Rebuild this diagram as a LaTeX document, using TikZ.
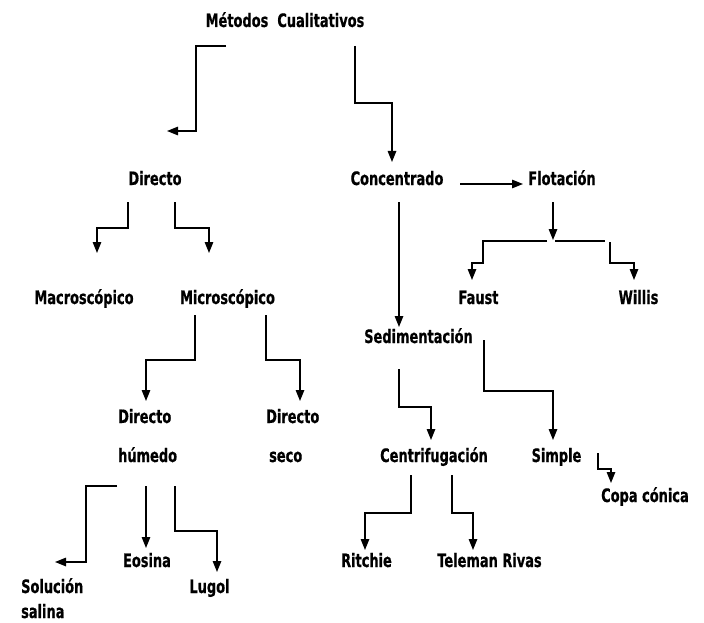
\documentclass[tikz,border=0pt]{standalone}
\usepackage{fontspec}
\setmainfont[FakeStretch=0.70,BoldFeatures={FakeBold=0.6}]{DejaVu Sans}
\usetikzlibrary{arrows.meta}
\tikzset{
  lbl/.style={font=\fontsize{18.5}{20}\selectfont\bfseries, inner sep=0pt, anchor=base, text=black},
  lblw/.style={lbl, anchor=base west},
  conn/.style={line width=1.4pt, -{Triangle[length=11pt,width=8.5pt]}},
  seg/.style={line width=1.4pt}
}
\begin{document}
\begin{tikzpicture}[x=1pt,y={(0pt,-1pt)}]
\useasboundingbox (0,0) rectangle (704,623);
% labels
\node[lbl] (met) at (285,27) {Métodos\ \ Cualitativos};
\node[lbl] (dir) at (155,185) {Directo};
\node[lbl] (con) at (397,185) {Concentrado};
\node[lbl] (flo) at (562,185) {Flotación};
\node[lbl] (mac) at (84,304) {Macroscópico};
\node[lbl] (mic) at (227.5,304) {Microscópico};
\node[lbl] (fau) at (478.5,304) {Faust};
\node[lbl] (wil) at (638.5,304) {Willis};
\node[lbl] (sed) at (418.5,343) {Sedimentación};
\node[lblw] (dh1) at (118,423) {Directo};
\node[lblw] (dh2) at (118,462) {húmedo};
\node[lblw] (ds1) at (266,423) {Directo};
\node[lblw] (ds2) at (269,462) {seco};
\node[lbl] (cen) at (434,462) {Centrifugación};
\node[lbl] (sim) at (556.5,462) {Simple};
\node[lbl] (cop) at (645,502) {Copa cónica};
\node[lblw] (sol1) at (21,593) {Solución};
\node[lblw] (sol2) at (21,618) {salina};
\node[lbl] (eos) at (147,567) {Eosina};
\node[lbl] (lug) at (209.5,593) {Lugol};
\node[lbl] (rit) at (366.5,567) {Ritchie};
\node[lbl] (tel) at (489.5,567) {Teleman Rivas};
% connector ends
\coordinate (a1) at (226,46);  \coordinate (a2) at (167,131);
\coordinate (b1) at (355,46);  \coordinate (b2) at (392,162);
\coordinate (c1) at (128,202); \coordinate (c2) at (97,253);
\coordinate (d1) at (175,202); \coordinate (d2) at (209,253);
\coordinate (e1) at (195,315); \coordinate (e2) at (146,401);
\coordinate (f1) at (266,315); \coordinate (f2) at (300,401);
\coordinate (g1) at (117,486); \coordinate (g2) at (55,562);
\coordinate (h1) at (146,486); \coordinate (h2) at (146,548);
\coordinate (i1) at (175,486); \coordinate (i2) at (217,572);
\coordinate (j1) at (460,184); \coordinate (j2) at (523,184);
\coordinate (k1) at (399,202); \coordinate (k2) at (399,327);
\coordinate (l1) at (553,202); \coordinate (l2) at (553,240);
\coordinate (m1) at (547,241); \coordinate (m2) at (472,280);
\coordinate (n0) at (555,241); \coordinate (n1) at (605,241);
\coordinate (n3) at (610,242); \coordinate (n2) at (634,280);
\coordinate (o1) at (399,369); \coordinate (o2) at (431,440);
\coordinate (p1) at (484,340); \coordinate (p2) at (553,440);
\coordinate (q1) at (598,453); \coordinate (q2) at (611,483);
\coordinate (r1) at (411,475); \coordinate (r2) at (365,550);
\coordinate (s1) at (452,475); \coordinate (s2) at (473,550);
% connectors
\draw[conn] (a1) -- (196,46) |- (a2);
\draw[conn] (b1) -- (355,103) -| (b2);
\draw[conn] (c1) -- (128,228) -| (c2);
\draw[conn] (d1) -- (175,228) -| (d2);
\draw[conn] (e1) -- (195,360) -| (e2);
\draw[conn] (f1) -- (266,360) -| (f2);
\draw[conn] (g1) -- (86,486) |- (g2);
\draw[conn] (h1) -- (h2);
\draw[conn] (i1) -- (175,531) -| (i2);
\draw[conn] (j1) -- (j2);
\draw[conn] (k1) -- (k2);
\draw[conn] (l1) -- (l2);
\draw[conn] (m1) -- (483,241) -- (483,263) -| (m2);
\draw[seg] (n0) -- (n1);
\draw[conn] (n3) -- (610,263) -| (n2);
\draw[conn] (o1) -- (399,407) -| (o2);
\draw[conn] (p1) -- (484,391) -| (p2);
\draw[conn] (q1) -- (598,469) -| (q2);
\draw[conn] (r1) -- (411,513) -| (r2);
\draw[conn] (s1) -- (452,513) -| (s2);
\end{tikzpicture}
\end{document}
